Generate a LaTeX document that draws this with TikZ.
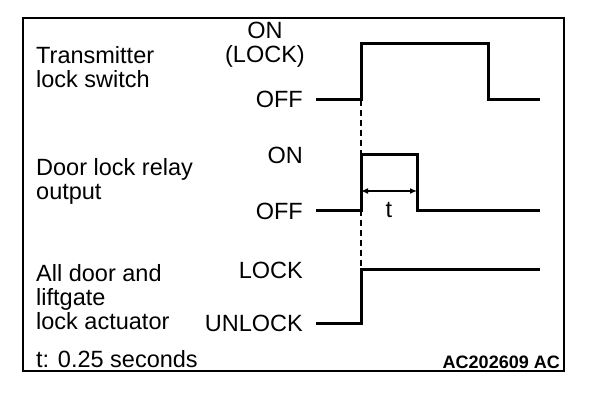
\documentclass[tikz,border=0pt]{standalone}
\usepackage{fontspec}
\setmainfont{Liberation Sans}
\usetikzlibrary{arrows.meta, positioning}
\tikzset{
  sigline/.style={line width=3pt, line join=miter},
  txt/.style={inner sep=0pt, font=\fontsize{23.5}{24}\selectfont},
  signame/.style={txt, align=left, anchor=north west},
  lvl/.style={txt, anchor=base east},
}

\begin{document}
\begin{tikzpicture}[x=1pt, y=-1pt]
  \useasboundingbox (0,0) rectangle (608,414);
  \draw[line width=1.8pt] (23,18) rectangle (564,371);

  % signal names
  \node[signame] (tx) at (36,46) {Transmitter\\lock switch};
  \node[signame] (relay) at (36,158) {Door lock relay\\output};
  \node[signame] (act) at (36,264) {All door and\\liftgate\\lock actuator};

  % levels
  \node[txt, align=center, anchor=north east, font=\fontsize{23.5}{23.5}\selectfont] (txOn) at (305,22) {ON\\(LOCK)};
  \node[lvl] (txOff) at (303,108) {OFF};
  \node[lvl] (relayOn) at (303,164) {ON};
  \node[lvl] (relayOff) at (303,220) {OFF};
  \node[lvl] (actLock) at (303,279) {LOCK};
  \node[lvl] (actUnlock) at (303,331) {UNLOCK};

  % waveforms
  \coordinate (rise) at (361,0);
  \draw[sigline] (316,100) -- (rise |- 0,100) -- (rise |- 0,44) -- (488,44) -- (488,100) -- (540,100);
  \draw[sigline] (316,211) -- (rise |- 0,211) -- (rise |- 0,155) -- (417,155) -- (417,211) -- (540,211);
  \draw[sigline] (316,323) -- (rise |- 0,323) -- (rise |- 0,270) -- (540,270);
  \draw[line width=1.2pt, dash pattern=on 6pt off 4pt] (rise |- 0,100) -- (rise |- 0,270);

  % pulse width
  \coordinate (wL) at (361,191);
  \coordinate (wR) at (417,191);
  \draw[line width=1.5pt, {Latex[length=7pt,width=6pt]}-{Latex[length=7pt,width=6pt]}] (wL) -- (wR)
    node[midway, below=11pt, txt] (tw) {t};

  \node[txt, anchor=base west] (note) at (36,367) {t: 0.25 seconds};
  \node[inner sep=0pt, anchor=base east, font=\bfseries\fontsize{18}{18}\selectfont] (code) at (560,368) {AC202609 AC};
\end{tikzpicture}
\end{document}
